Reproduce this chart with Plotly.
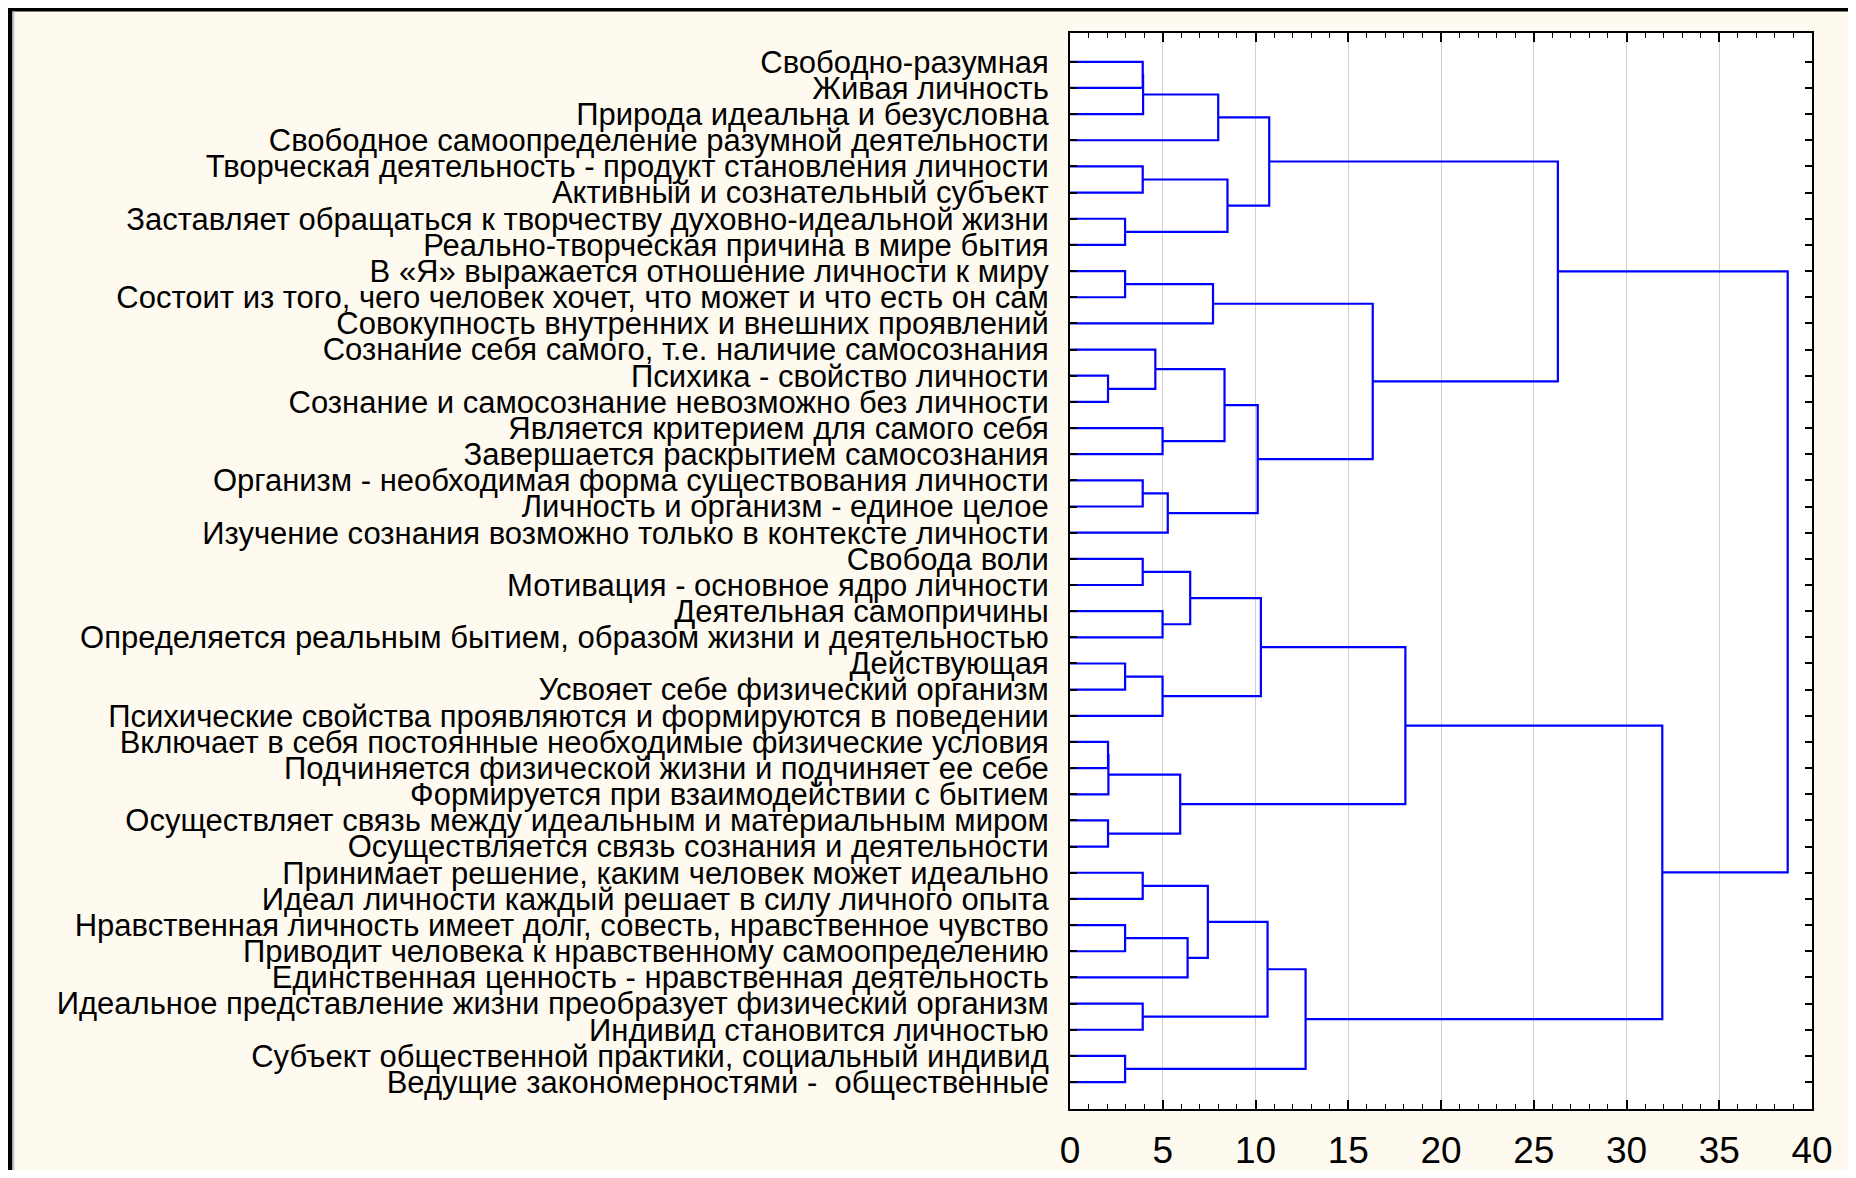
import plotly.graph_objects as go

# ---------------- data ----------------
leaf_labels = [
    "Свободно-разумная",
    "Живая личность",
    "Природа идеальна и безусловна",
    "Свободное самоопределение разумной деятельности",
    "Творческая деятельность - продукт становления личности",
    "Активный и сознательный субъект",
    "Заставляет обращаться к творчеству духовно-идеальной жизни",
    "Реально-творческая причина в мире бытия",
    "В «Я» выражается отношение личности к миру",
    "Состоит из того, чего человек хочет, что может и что есть он сам",
    "Совокупность внутренних и внешних проявлений",
    "Сознание себя самого, т.е. наличие самосознания",
    "Психика - свойство личности",
    "Сознание и самосознание невозможно без личности",
    "Является критерием для самого себя",
    "Завершается раскрытием самосознания",
    "Организм - необходимая форма существования личности",
    "Личность и организм - единое целое",
    "Изучение сознания возможно только в контексте личности",
    "Свобода воли",
    "Мотивация - основное ядро личности",
    "Деятельная самопричины",
    "Определяется реальным бытием, образом жизни и деятельностью",
    "Действующая",
    "Усвояет себе физический организм",
    "Психические свойства проявляются и формируются в поведении",
    "Включает в себя постоянные необходимые физические условия",
    "Подчиняется физической жизни и подчиняет ее себе",
    "Формируется при взаимодействии с бытием",
    "Осуществляет связь между идеальным и материальным миром",
    "Осуществляется связь сознания и деятельности",
    "Принимает решение, каким человек может идеально",
    "Идеал личности каждый решает в силу личного опыта",
    "Нравственная личность имеет долг, совесть, нравственное чувство",
    "Приводит человека к нравственному самоопределению",
    "Единственная ценность - нравственная деятельность",
    "Идеальное представление жизни преобразует физический организм",
    "Индивид становится личностью",
    "Субъект общественной практики, социальный индивид",
    "Ведущие закономерностями -  общественные",
]

# merges: node ids 0..39 are leaves, merge k creates node 40+k
merge_left = [12, 26, 41, 29, 6, 8, 23, 33, 38, 0, 49, 4, 16, 19, 31, 36,
              11, 14, 21, 46, 52, 42, 47, 53, 54, 45, 50, 56, 51, 67, 63, 64,
              66, 71, 65, 70, 72, 75, 76]
merge_right = [13, 27, 28, 30, 7, 9, 24, 34, 39, 1, 2, 5, 17, 20, 32, 37,
               40, 15, 22, 25, 18, 43, 35, 58, 62, 10, 3, 57, 44, 60, 59, 55,
               68, 48, 69, 61, 74, 73, 77]
merge_height = [2.05, 2.05, 2.07, 2.05, 2.97, 2.97, 2.97, 2.97, 2.97, 3.92,
                3.94, 3.92, 3.92, 3.92, 3.92, 3.92, 4.60, 4.99, 4.99, 4.99,
                5.27, 5.94, 6.34, 6.48, 7.43, 7.71, 7.99, 8.33, 8.49, 10.12,
                10.29, 10.65, 10.74, 12.70, 16.32, 18.08, 26.30, 31.93, 38.69]

x_ticks = [0, 5, 10, 15, 20, 25, 30, 35, 40]

# ---------------- build tree lines ----------------
n = len(leaf_labels)
pos = {i: i + 1 for i in range(n)}
hgt = {i: 0.0 for i in range(n)}
xs, ys = [], []
for k, (a, b, h) in enumerate(zip(merge_left, merge_right, merge_height)):
    node = n + k
    xs += [hgt[a], h, h, hgt[b], None]
    ys += [pos[a], pos[a], pos[b], pos[b], None]
    pos[node] = (pos[a] + pos[b]) / 2.0
    hgt[node] = h

fig = go.Figure()
fig.add_trace(go.Scatter(x=xs, y=ys, mode="lines",
                         line=dict(color="#0000FF", width=2.2),
                         hoverinfo="skip", showlegend=False))

# ---------------- layout ----------------
# page has an 8px body margin on every side; keep the figure inside the viewport
OFF = 8
W, H = 1856 - 2 * OFF, 1178 - 2 * OFF
L, R, T, B = 1070 - OFF, 1812 - OFF, 33 - OFF, 1109 - OFF


def px(x):
    return (x - L) / (R - L)


def py(y):
    return (B - y) / (B - T)


shapes = [
    # black border top / left
    dict(type="rect", xref="paper", yref="paper", x0=px(0), x1=px(W), y0=py(0), y1=py(3.5),
         fillcolor="black", line_width=0, layer="above"),
    dict(type="rect", xref="paper", yref="paper", x0=px(0), x1=px(4.5), y0=py(0), y1=py(H),
         fillcolor="black", line_width=0, layer="above"),
    dict(type="rect", xref="paper", yref="paper", x0=px(4.5), x1=px(6.5), y0=py(3.5), y1=py(H),
         fillcolor="#C8C8C8", line_width=0, layer="above"),
]

fig.update_layout(
    width=W, height=H,
    margin=dict(l=L, r=W - R, t=T, b=H - B, pad=0, autoexpand=False),
    paper_bgcolor="#FFFAEF",
    plot_bgcolor="white",
    shapes=shapes,
    font=dict(family="Liberation Sans, Arial, sans-serif", color="black"),
)

fig.update_xaxes(
    range=[0, 40], automargin=False,
    tickvals=x_ticks, ticktext=[str(v) for v in x_ticks],
    ticks="inside", ticklen=9, tickwidth=1.5, tickcolor="black",
    minor=dict(dtick=1, ticks="inside", ticklen=5, tickcolor="black", tickwidth=1, showgrid=False),
    showgrid=True, gridcolor="#D0D0D0", gridwidth=1,
    showline=True, linecolor="black", linewidth=2, mirror="ticks",
    zeroline=False,
    tickfont=dict(size=37, family="Liberation Sans, Arial, sans-serif", color="black"),
    ticklabelstandoff=8,
)

fig.update_yaxes(
    range=[41.03, -0.1], automargin=False,
    tickvals=list(range(1, n + 1)), ticktext=leaf_labels,
    ticks="inside", ticklen=7, tickwidth=1.5, tickcolor="black",
    showgrid=False, zeroline=False,
    showline=True, linecolor="black", linewidth=2, mirror="ticks",
    tickfont=dict(size=31, family="Liberation Sans, Arial, sans-serif", color="black"),
    ticklabelstandoff=13,
)

fig.write_html("out.html")
